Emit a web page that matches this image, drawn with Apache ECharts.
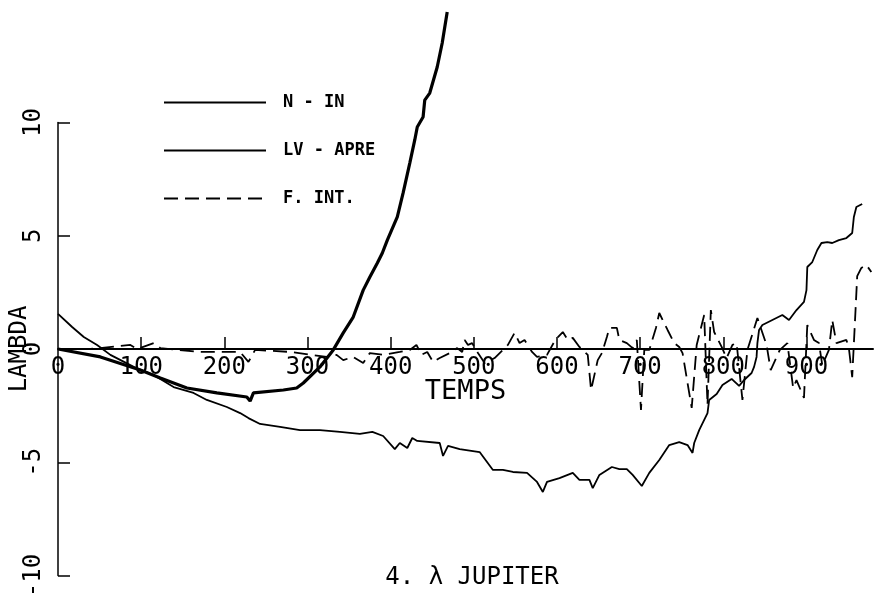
<!DOCTYPE html>
<html>
<head>
<meta charset="utf-8">
<script src="https://cdn.jsdelivr.net/npm/echarts@6/dist/echarts.min.js"></script>
<style>
html,body{margin:0;padding:0;background:#fff;}
#chart{width:878px;height:603px;}
</style>
</head>
<body>
<div id="chart"></div>
<script>
// ---- data ----
const seriesNames = ['N - IN', 'LV - APRE', 'F. INT.'];
const xTickValues = [0, 100, 200, 300, 400, 500, 600, 700, 800, 900];
const yTickValues = [-10, -5, 0, 5, 10];

const tNIN = [0, 51, 99, 123, 155, 191, 227, 231, 235, 271, 287, 295, 315, 331, 343, 355, 367, 375, 384, 390, 396, 408, 415, 423, 429, 432, 439, 441, 447, 456, 462, 468];
const vNIN = [0, -0.35, -0.93, -1.28, -1.72, -1.94, -2.12, -2.30, -1.94, -1.81, -1.72, -1.50, -0.79, -0.04, 0.71, 1.41, 2.60, 3.18, 3.80, 4.24, 4.81, 5.83, 6.89, 8.21, 9.23, 9.80, 10.24, 10.99, 11.30, 12.45, 13.51, 14.88];

const tLV = [0, 17, 31, 47, 63, 91, 115, 139, 163, 179, 203, 219, 229, 243, 267, 291, 315, 339, 363, 378, 391, 405, 411, 420, 426, 432, 459, 463, 469, 483, 507, 523, 535, 547, 564, 576, 583, 588, 603, 619, 627, 639, 643, 651, 666, 675, 684, 691, 702, 711, 723, 735, 747, 757, 763, 765, 771, 781, 783, 792, 799, 810, 819, 825, 834, 837, 840, 841, 843, 847, 859, 871, 879, 888, 897, 900, 901, 907, 913, 918, 925, 931, 939, 948, 955, 957, 960, 967];
const vLV = [1.55, 0.97, 0.53, 0.18, -0.26, -0.79, -1.15, -1.68, -1.94, -2.25, -2.56, -2.83, -3.05, -3.31, -3.44, -3.58, -3.58, -3.66, -3.75, -3.66, -3.84, -4.42, -4.15, -4.37, -3.93, -4.06, -4.15, -4.72, -4.28, -4.42, -4.55, -5.34, -5.34, -5.43, -5.47, -5.87, -6.31, -5.87, -5.70, -5.47, -5.78, -5.78, -6.14, -5.56, -5.21, -5.30, -5.30, -5.56, -6.05, -5.47, -4.90, -4.24, -4.11, -4.24, -4.59, -4.15, -3.58, -2.83, -2.25, -1.99, -1.59, -1.32, -1.63, -1.37, -1.06, -0.79, -0.35, 0.26, 0.84, 1.06, 1.28, 1.50, 1.28, 1.72, 2.08, 2.60, 3.62, 3.84, 4.37, 4.68, 4.72, 4.68, 4.81, 4.90, 5.12, 5.83, 6.27, 6.40];

const tFI = [0, 39, 87, 95, 115, 123, 171, 219, 229, 237, 279, 323, 335, 343, 355, 367, 375, 391, 411, 423, 431, 437, 444, 451, 459, 471, 480, 486, 489, 493, 498, 505, 513, 525, 535, 541, 549, 555, 561, 570, 576, 588, 598, 607, 613, 619, 627, 637, 641, 649, 654, 660, 663, 672, 675, 684, 691, 696, 701, 705, 711, 719, 723, 733, 741, 747, 751, 762, 768, 777, 781, 785, 789, 798, 804, 811, 816, 823, 829, 841, 852, 857, 868, 877, 884, 888, 897, 901, 909, 915, 919, 927, 931, 936, 948, 951, 955, 959, 961, 966, 972, 978];
const vFI = [0, 0, 0.18, 0, 0.26, 0.04, -0.13, -0.13, -0.57, -0.04, -0.13, -0.35, -0.26, -0.49, -0.35, -0.62, -0.18, -0.26, -0.13, -0.04, 0.18, -0.26, -0.13, -0.57, -0.40, -0.18, 0.04, -0.13, 0.40, 0.18, 0.26, -0.18, -0.62, -0.40, -0.04, 0.18, 0.71, 0.26, 0.40, -0.13, -0.35, -0.26, 0.40, 0.75, 0.40, 0.49, 0.09, -0.26, -1.81, -0.49, -0.18, 0.53, 0.93, 0.93, 0.40, 0.26, 0.04, 0.40, -2.69, -0.04, -0.04, 0.93, 1.59, 0.84, 0.26, 0.09, -0.18, -2.60, 0.18, 1.50, -2.47, 1.72, 0.75, 0.09, -0.40, 0.18, 0.26, -2.25, -0.04, 1.37, 0.18, -0.93, -0.04, 0.26, -1.72, -1.37, -2.16, 1.06, 0.40, 0.26, -0.71, -0.04, 1.28, 0.26, 0.40, 0.04, -1.24, 1.72, 3.22, 3.58, 3.71, 3.40];

function zip(ts, vs) { return ts.map((t, i) => [t, vs[i]]); }

const FONT = 'DejaVu Sans Mono';
const GRID_TOP = 122.5, GRID_BOTTOM = 27.5, CHART_H = 603;
const chart = echarts.init(document.getElementById('chart'), null, {renderer: 'canvas'});
// x axis drawn through the zero of the y axis: offset from the grid bottom by half the grid height (range -10..10)
const xAxisOffset = -((CHART_H - GRID_TOP - GRID_BOTTOM) / 2);
chart.setOption({
  backgroundColor: '#ffffff',
  animation: false,
  title: {
    text: '4. λ JUPITER',
    left: 467,
    textAlign: 'center',
    top: 561,
    textStyle: {fontFamily: FONT, fontSize: 24, fontWeight: 'normal', color: '#000'}
  },
  legend: {
    orient: 'vertical',
    left: 158,
    top: 89,
    itemWidth: 102,
    itemHeight: 16,
    itemGap: 31,
    selectedMode: false,
    itemStyle: {color: 'rgba(0,0,0,0)', borderWidth: 0, opacity: 0},
    textStyle: {fontFamily: FONT, fontSize: 17, fontWeight: 'bold', color: '#000', padding: [0, 0, 0, 12]},
    data: seriesNames
  },
  grid: {left: 58, right: 5, top: GRID_TOP, bottom: GRID_BOTTOM, outerBoundsMode: 'none', containLabel: false},
  xAxis: {
    type: 'value',
    position: 'bottom',
    offset: xAxisOffset,
    min: 0,
    max: 980,
    interval: 100,
    name: 'TEMPS',
    nameLocation: 'middle',
    nameGap: 29,
    nameMoveOverlap: false,
    nameTextStyle: {fontFamily: FONT, fontSize: 27, color: '#000'},
    axisLine: {onZero: false, lineStyle: {color: '#000', width: 2}},
    axisTick: {inside: true, length: 12, lineStyle: {color: '#000', width: 1.5}, customValues: xTickValues.slice(1)},
    axisLabel: {fontFamily: FONT, fontSize: 24, color: '#000', margin: 7, customValues: xTickValues, hideOverlap: false},
    splitLine: {show: false}
  },
  yAxis: {
    type: 'value',
    min: -10,
    max: 10,
    interval: 5,
    name: 'LAMBDA',
    nameLocation: 'middle',
    nameGap: 26,
    nameMoveOverlap: false,
    nameTextStyle: {fontFamily: FONT, fontSize: 24, color: '#000'},
    axisLine: {lineStyle: {color: '#000', width: 1.5}},
    axisTick: {inside: true, length: 12, lineStyle: {color: '#000', width: 1.5}, customValues: yTickValues},
    axisLabel: {fontFamily: FONT, fontSize: 24, color: '#000', rotate: 90, margin: 12, customValues: yTickValues},
    splitLine: {show: false}
  },
  series: [
    {
      name: seriesNames[0], type: 'line', data: zip(tNIN, vNIN), symbol: 'none', clip: false,
      lineStyle: {color: '#000', width: 3.2}, itemStyle: {color: '#000'}
    },
    {
      name: seriesNames[1], type: 'line', data: zip(tLV, vLV), symbol: 'none', clip: false,
      lineStyle: {color: '#000', width: 1.8}, itemStyle: {color: '#000'}
    },
    {
      name: seriesNames[2], type: 'line', data: zip(tFI, vFI), symbol: 'none', clip: false,
      lineStyle: {color: '#000', width: 1.8, type: [14, 7]}, itemStyle: {color: '#000'}
    }
  ]
});
</script>
</body>
</html>
